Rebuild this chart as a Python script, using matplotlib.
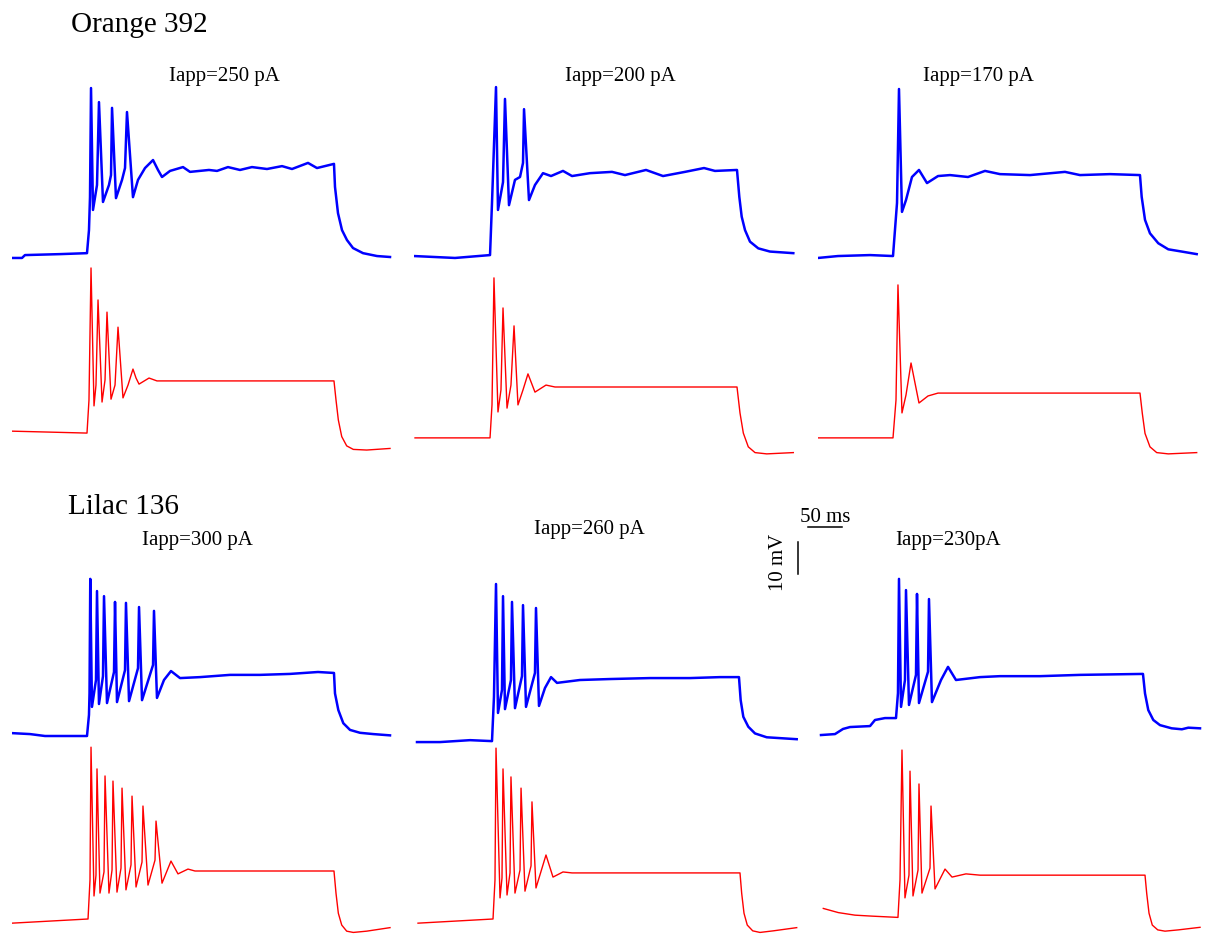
import matplotlib
matplotlib.use("Agg")
import matplotlib.pyplot as plt

plt.rcParams["font.family"] = ["Liberation Serif", "DejaVu Serif"]

# ---------------------------------------------------------------------------
# membrane potential traces (time in ms, voltage in mV)
# rec = whole-cell recording, mod = model
# ---------------------------------------------------------------------------

# Orange 392, Iapp = 250 pA
orange_250_rec_t = [0, 14.7, 19.1, 70.6, 110.3, 113.2, 114.7, 116.2, 119.1, 125.0,
                    127.9, 133.8, 142.6, 145.6, 147.1, 152.9, 161.8, 166.2, 169.1,
                    177.9, 185.3, 195.6, 207.4, 214.7, 220.6, 232.4, 251.5, 261.8,
                    289.7, 301.5, 317.6, 335.3, 352.9, 375.0, 397.1, 411.8, 435.3,
                    448.5, 473.5, 475.0, 479.4, 485.3, 492.6, 501.5, 516.2, 536.8,
                    555.9]
orange_250_rec_v = [-70.3, -70.3, -69.4, -69.1, -68.8, -61.6, -51.3, -17.2, -55.3, -47.5,
                    -21.6, -52.8, -47.5, -44.4, -23.4, -51.6, -45.9, -42.2, -24.7,
                    -51.3, -45.9, -42.2, -39.7, -42.8, -45.0, -43.1, -41.9, -43.4,
                    -42.8, -43.1, -41.9, -42.8, -41.9, -42.5, -41.6, -42.5, -40.6,
                    -42.2, -40.9, -48.1, -56.3, -61.6, -64.7, -67.2, -68.8, -69.7,
                    -70.0]
orange_250_mod_t = [0, 55.9, 110.3, 113.2, 116.2, 120.6, 123.5, 126.5, 132.4, 136.8,
                    139.7, 145.6, 151.5, 155.9, 163.2, 170.6, 177.9, 182.4, 186.8,
                    201.5, 213.2, 473.5, 476.5, 479.9, 484.9, 492.2, 501.9, 521.6,
                    555.9]
orange_250_mod_v = [-68.8, -69.1, -69.4, -59.1, -17.8, -60.9, -54.4, -27.8, -59.7, -52.8,
                    -31.6, -58.8, -54.4, -36.3, -58.4, -54.4, -49.4, -52.2, -54.1,
                    -52.2, -53.1, -53.1, -59.1, -65.3, -70.5, -73.4, -74.5, -74.7,
                    -74.2]

# Orange 392, Iapp = 200 pA
orange_200_rec_t = [0, 60.3, 111.8, 114.7, 120.6, 123.5, 130.9, 133.8, 139.7, 148.5,
                    155.9, 160.3, 161.8, 169.1, 177.9, 189.7, 201.5, 219.1, 232.4,
                    258.8, 291.2, 310.3, 341.2, 366.2, 398.5, 426.5, 442.6, 475.0,
                    478.4, 481.9, 486.8, 494.1, 506.3, 523.5, 557.8]
orange_200_rec_v = [-69.7, -70.3, -69.4, -53.1, -16.9, -55.3, -46.6, -20.6, -53.8, -45.9,
                    -45.0, -40.6, -23.8, -52.2, -47.5, -43.8, -44.7, -43.1, -44.7,
                    -43.8, -43.4, -44.4, -42.8, -44.7, -43.4, -42.2, -43.1, -42.8,
                    -51.2, -57.4, -61.6, -65.2, -67.3, -68.3, -68.8]
orange_200_mod_t = [1.5, 111.8, 114.7, 117.6, 123.5, 127.9, 130.9, 136.8, 142.6, 147.1,
                    152.9, 160.3, 167.6, 177.9, 194.1, 207.4, 475.0, 479.4, 484.3,
                    491.6, 501.5, 518.7, 557.8]
orange_200_mod_v = [-70.9, -70.9, -60.6, -20.9, -62.8, -55.9, -30.3, -61.6, -54.4, -35.9,
                    -60.6, -55.9, -50.9, -56.6, -54.4, -55.0, -55.0, -63.1, -69.4,
                    -73.7, -75.5, -75.9, -75.5]

# Orange 392, Iapp = 170 pA
orange_170_rec_t = [0, 29.4, 76.5, 110.3, 116.2, 119.1, 123.5, 129.4, 138.2, 148.5,
                    160.3, 176.5, 194.1, 220.6, 245.6, 267.6, 311.8, 363.2, 385.3,
                    429.4, 473.5, 476.0, 480.9, 488.2, 500.4, 515.1, 534.9, 556.9]
orange_170_rec_v = [-70.3, -69.7, -69.4, -69.7, -53.1, -17.5, -55.9, -52.2, -45.0, -42.8,
                    -46.9, -44.7, -44.4, -45.0, -43.1, -44.1, -44.4, -43.4, -44.4,
                    -44.1, -44.4, -51.2, -58.4, -62.6, -65.7, -67.6, -68.3, -69.1]
orange_170_mod_t = [0, 110.3, 114.7, 117.6, 123.5, 129.4, 136.8, 148.5, 161.8, 176.5,
                    473.5, 476.9, 480.9, 488.2, 498.1, 515.1, 556.9]
orange_170_mod_v = [-70.9, -70.9, -59.1, -23.1, -63.1, -57.5, -47.5, -60.0, -57.8, -56.9,
                    -56.9, -63.2, -69.5, -73.7, -75.5, -75.9, -75.5]

# Lilac 136, Iapp = 300 pA
lilac_300_rec_t = [0, 26.5, 48.5, 110.3, 113.2, 114.0, 115.1, 117.6, 123.5, 125.0,
                   127.9, 133.8, 135.3, 139.7, 150.0, 151.5, 154.4, 166.2, 167.6,
                   172.1, 185.3, 186.8, 191.2, 207.4, 208.8, 213.2, 223.5, 233.8,
                   247.1, 276.5, 320.6, 364.7, 408.8, 450.0, 473.5, 475.0, 479.9,
                   487.2, 497.1, 511.8, 531.3, 555.9]
lilac_300_rec_v = [-69.1, -69.4, -70.0, -70.0, -63.4, -56.6, -20.9, -60.9, -52.5, -24.7,
                   -60.0, -51.3, -26.3, -59.7, -50.0, -28.1, -59.4, -49.4, -28.4,
                   -59.1, -48.8, -29.7, -58.8, -47.8, -30.9, -58.1, -52.5, -49.7,
                   -51.9, -51.6, -50.9, -50.9, -50.6, -50.0, -50.3, -56.7, -61.9,
                   -66.0, -68.1, -69.0, -69.4, -69.8]
lilac_300_mod_t = [0, 111.8, 114.7, 116.2, 120.6, 123.5, 125.0, 129.4, 135.3, 136.8,
                   142.6, 147.1, 148.5, 154.4, 160.3, 161.8, 167.6, 175.0, 176.5,
                   182.4, 191.2, 192.6, 200.0, 210.3, 211.8, 220.6, 233.8, 244.1,
                   258.8, 269.1, 473.5, 476.5, 479.9, 484.9, 492.2, 501.9, 521.6,
                   555.9]
lilac_300_mod_v = [-71.3, -70.0, -57.8, -16.3, -62.8, -56.3, -23.1, -61.9, -55.3, -25.3,
                   -61.9, -54.7, -26.9, -61.6, -54.1, -29.1, -60.9, -53.1, -31.6,
                   -60.0, -52.2, -34.7, -59.4, -51.6, -39.4, -58.8, -51.9, -55.9,
                   -54.4, -55.0, -55.0, -62.0, -68.2, -71.9, -73.8, -74.2, -73.8,
                   -72.7]

# Lilac 136, Iapp = 260 pA
lilac_260_rec_t = [4.4, 38.2, 82.4, 114.7, 117.6, 120.6, 123.5, 129.4, 130.9, 133.8,
                   142.6, 144.1, 148.5, 158.8, 160.3, 164.7, 177.9, 179.4, 183.8,
                   192.6, 201.5, 210.3, 244.1, 288.2, 347.1, 405.9, 450.0, 477.9,
                   480.4, 484.3, 491.6, 501.5, 518.7, 562.8]
lilac_260_rec_v = [-71.9, -71.9, -71.3, -71.6, -57.8, -22.5, -62.8, -55.6, -26.3, -61.6,
                   -52.5, -28.1, -61.3, -51.3, -29.1, -60.9, -50.3, -30.0, -60.6,
                   -55.0, -51.6, -53.4, -52.5, -52.2, -51.9, -51.9, -51.6, -51.6,
                   -58.8, -64.0, -67.1, -69.2, -70.4, -71.0]
lilac_260_mod_t = [5.9, 116.2, 119.1, 120.6, 126.5, 129.4, 130.9, 136.8, 141.2, 142.6,
                   148.5, 155.9, 157.4, 163.2, 172.1, 173.5, 179.4, 194.1, 204.4,
                   219.1, 232.4, 479.4, 481.9, 485.3, 490.1, 498.1, 508.8, 528.4,
                   562.8]
lilac_260_mod_v = [-71.3, -70.0, -57.8, -16.6, -63.4, -57.2, -23.1, -62.5, -55.6, -25.6,
                   -61.9, -54.7, -29.1, -61.3, -53.4, -33.4, -60.3, -50.0, -56.9,
                   -55.3, -55.6, -55.6, -62.0, -68.2, -71.9, -73.7, -74.2, -73.7,
                   -72.7]

# Lilac 136, Iapp = 230 pA
lilac_230_rec_t = [4.4, 25.0, 36.8, 47.1, 76.5, 83.8, 98.5, 114.7, 117.6, 119.1,
                   122.1, 127.9, 129.4, 133.8, 144.1, 145.6, 148.5, 161.8, 163.2,
                   167.6, 180.9, 191.2, 202.9, 238.2, 267.6, 326.5, 385.3, 477.9,
                   480.9, 485.7, 493.1, 502.9, 520.1, 535.1, 544.6, 561.8]
lilac_230_rec_v = [-69.7, -69.4, -67.8, -67.2, -66.9, -65.0, -64.4, -64.4, -56.6, -20.9,
                   -60.9, -52.5, -24.4, -60.3, -50.9, -25.6, -59.7, -49.9, -27.2,
                   -59.4, -52.5, -48.4, -52.5, -51.6, -51.3, -51.3, -50.9, -50.6,
                   -56.7, -61.9, -65.0, -66.6, -67.6, -67.9, -67.4, -67.6]
lilac_230_mod_t = [7.8, 29.9, 54.4, 79.0, 117.6, 120.6, 123.5, 127.9, 133.8, 135.3,
                   139.7, 147.1, 148.5, 152.9, 164.7, 166.2, 172.1, 186.8, 197.1,
                   217.6, 238.2, 480.9, 483.4, 486.8, 491.6, 499.6, 510.3, 529.9,
                   561.8]
lilac_230_mod_v = [-66.7, -68.0, -68.8, -69.1, -69.5, -57.8, -17.2, -63.4, -56.3, -23.8,
                   -62.8, -54.7, -27.8, -61.9, -54.1, -34.7, -60.6, -54.4, -56.9,
                   -55.9, -56.3, -56.3, -62.0, -68.2, -71.9, -73.4, -73.8, -73.4,
                   -72.6]

cells = ["Orange 392", "Lilac 136"]
currents = [["Iapp=250 pA", "Iapp=200 pA", "Iapp=170 pA"],
            ["Iapp=300 pA", "Iapp=260 pA", "Iapp=230pA"]]
traces = [
    [(orange_250_rec_t, orange_250_rec_v, orange_250_mod_t, orange_250_mod_v),
     (orange_200_rec_t, orange_200_rec_v, orange_200_mod_t, orange_200_mod_v),
     (orange_170_rec_t, orange_170_rec_v, orange_170_mod_t, orange_170_mod_v)],
    [(lilac_300_rec_t, lilac_300_rec_v, lilac_300_mod_t, lilac_300_mod_v),
     (lilac_260_rec_t, lilac_260_rec_v, lilac_260_mod_t, lilac_260_mod_v),
     (lilac_230_rec_t, lilac_230_rec_v, lilac_230_mod_t, lilac_230_mod_v)],
]

# ---------------------------------------------------------------------------
# layout (pixels): 0.68 px per ms, 3.2 px per mV
# ---------------------------------------------------------------------------
W, H = 1205, 935
PX_MS, PX_MV = 0.68, 3.2
T_MAX = 575.0
V_LO, V_HI = -80.0, -10.0
col_left = [12, 414, 818]
rest_y = [(257, 435), (736, 919)]          # pixel row of -70 mV (rec, mod)
cell_xy = [(71, 32), (68, 514)]
title_xy = [[(169, 81), (565, 81), (923, 81)],
            [(142, 545), (534, 534), (895, 545)]]

fig = plt.figure(figsize=(W / 100, H / 100), dpi=100)


def panel(x0, y_rest):
    """Borderless axes whose -70 mV line sits on pixel row ``y_rest``."""
    top = y_rest - (V_HI + 70) * PX_MV
    height = (V_HI - V_LO) * PX_MV
    ax = fig.add_axes([x0 / W, 1 - (top + height) / H,
                       T_MAX * PX_MS / W, height / H])
    ax.set_xlim(0, T_MAX)
    ax.set_ylim(V_LO, V_HI)
    ax.axis("off")
    ax.patch.set_visible(False)
    return ax


for g, cell in enumerate(cells):
    fig.text(cell_xy[g][0] / W, 1 - cell_xy[g][1] / H, cell,
             fontsize=21, va="baseline", ha="left")
    for c in range(3):
        rt, rv, mt, mv = traces[g][c]
        ax_rec = panel(col_left[c], rest_y[g][0])
        ax_rec.plot(rt, rv, color="#0000ff", lw=1.8, solid_joinstyle="round")
        ax_mod = panel(col_left[c], rest_y[g][1])
        ax_mod.plot(mt, mv, color="#ff0000", lw=1.0)
        tx, ty = title_xy[g][c]
        fig.text(tx / W, 1 - ty / H, currents[g][c],
                 fontsize=15, va="baseline", ha="left")
        if g == 1 and c == 2:
            # 50 ms / 10 mV scale bar, left of the last recording
            ax_rec.plot([-14.7, 35.3], [-4.7, -4.7], color="black",
                        lw=1.1, clip_on=False)
            ax_rec.plot([-29.4, -29.4], [-19.4, -9.4], color="black",
                        lw=1.1, clip_on=False)
            ax_rec.text(10.3, -3.1, "50 ms", fontsize=15,
                        ha="center", va="baseline")
            ax_rec.text(-58.8, -15.6, "10 mV", fontsize=15, rotation=90,
                        ha="center", va="center")

fig.savefig("out.png", dpi=100, facecolor="white")
